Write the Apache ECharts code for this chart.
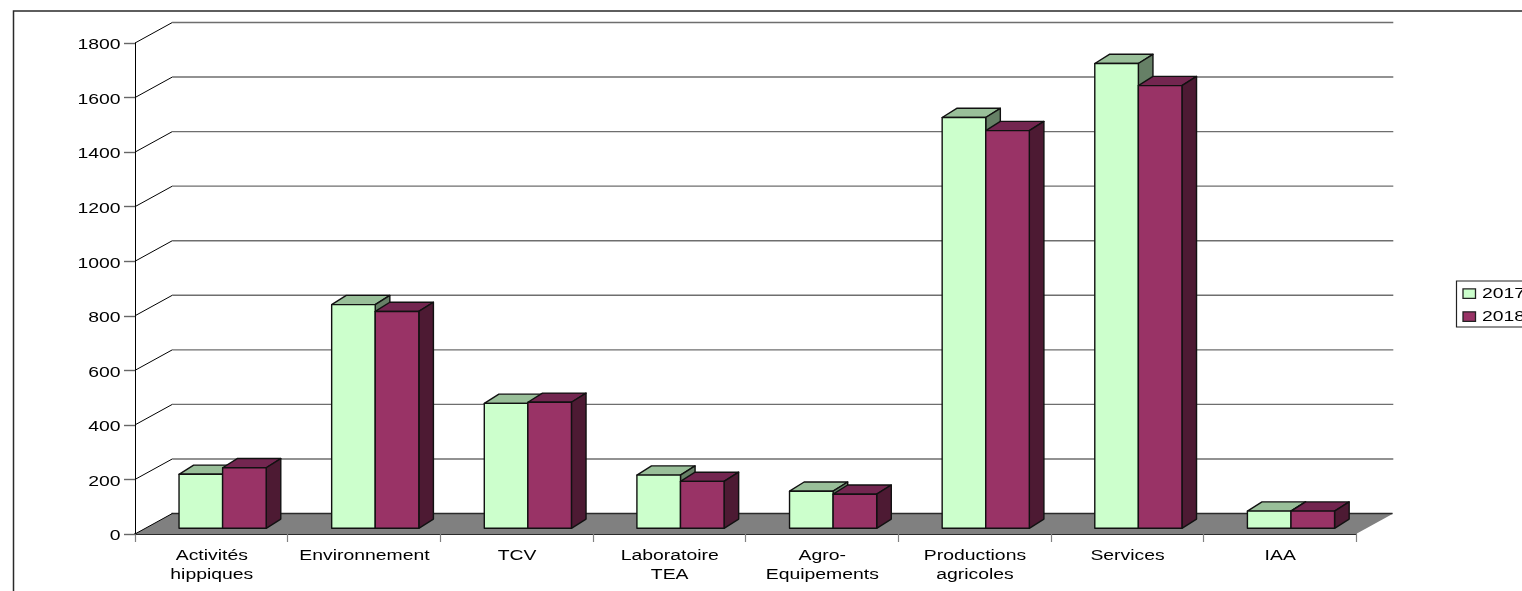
<!DOCTYPE html>
<html><head><meta charset="utf-8">
<style>html,body{margin:0;padding:0;background:#fff;overflow:hidden}#c{width:1522px;height:591px}</style>
<script src="https://cdn.jsdelivr.net/npm/echarts@6/dist/echarts.min.js"></script>
</head><body><div id="c"></div>
<script>
const categories = ['Activités\nhippiques','Environnement','TCV','Laboratoire\nTEA','Agro-\nEquipements','Productions\nagricoles','Services','IAA'];
const values2017 = [198,820,458,195,136,1506,1704,63];
const values2018 = [222,795,462,172,125,1458,1623,63];
const yTicks = [0,200,400,600,800,1000,1200,1400,1600,1800];
const seriesNames = ['2017','2018'];

const FONT = '15.5px "Liberation Sans", Arial, sans-serif';
const SX = 1.25;
const WALL = [37.3,-20.5], GAP = [11.3,-5.7], DEPTH = [14.6,-9.2];
const palette = [
  {front:'#CCFFCC', top:'#99BF99', side:'#668066'},
  {front:'#993366', top:'#732650', side:'#4D1A33'}
];
const chart = echarts.init(document.getElementById('c'));

function pts(a){return {points:a};}

function renderBack(params, api){
  const c = [];
  const left = api.coord([0,0])[0] - api.size([1,0])[0]/2;
  const right = api.coord([categories.length-1,0])[0] + api.size([1,0])[0]/2;
  const y0 = api.coord([0,0])[1];
  c.push({type:'polygon',shape:pts([[left,y0],[left+WALL[0],y0+WALL[1]],[right+WALL[0],y0+WALL[1]],[right,y0]]),
    style:{fill:'#808080',stroke:null}});
  c.push({type:'line',shape:{x1:left+WALL[0]*0.98,y1:y0+WALL[1],x2:right+WALL[0]*0.98,y2:y0+WALL[1]},style:{stroke:'#2a2a2a',lineWidth:1.5}});
  c.push({type:'line',shape:{x1:left,y1:y0,x2:left+WALL[0],y2:y0+WALL[1]},style:{stroke:'#000',lineWidth:1}});
  yTicks.forEach(function(t){
    const y = api.coord([0,t])[1];
    if(t>0){
      c.push({type:'line',shape:{x1:left+WALL[0],y1:y+WALL[1],x2:right+WALL[0],y2:y+WALL[1]},style:{stroke:'#6e6e6e',lineWidth:1.4}});
      c.push({type:'line',shape:{x1:left,y1:y,x2:left+WALL[0],y2:y+WALL[1]},style:{stroke:'#000',lineWidth:1}});
    }
    c.push({type:'text',x:left-14.5,y:y+2,scaleX:SX,style:{text:String(t),font:FONT,fill:'#000',textAlign:'right',textVerticalAlign:'middle'}});
  });
  categories.forEach(function(name,i){
    c.push({type:'text',x:api.coord([i,0])[0]+0.5,y:y0+12.5,scaleX:SX,style:{text:name,font:FONT,fill:'#000',textAlign:'center',textVerticalAlign:'top',lineHeight:19}});
  });
  return {type:'group',children:c};
}

function barRenderer(idx){
  return function(params, api){
    const cat = api.value(0), val = api.value(1);
    const cw = api.size([1,0])[0], w = cw*0.2855;
    const cx = api.coord([cat,0])[0], y0 = api.coord([cat,0])[1]+GAP[1], yt = api.coord([cat,val])[1]+GAP[1];
    const x1 = cx - w + idx*w + GAP[0], x2 = x1 + w;
    const p = palette[idx], st = function(f){return {fill:f,stroke:'#111',lineWidth:1.4,lineJoin:'round'};};
    return {type:'group',children:[
      {type:'polygon',shape:pts([[x1,yt],[x1+DEPTH[0],yt+DEPTH[1]],[x2+DEPTH[0],yt+DEPTH[1]],[x2,yt]]),style:st(p.top)},
      {type:'polygon',shape:pts([[x2,yt],[x2+DEPTH[0],yt+DEPTH[1]],[x2+DEPTH[0],y0+DEPTH[1]],[x2,y0]]),style:st(p.side)},
      {type:'polygon',shape:pts([[x1,yt],[x2,yt],[x2,y0],[x1,y0]]),style:st(p.front)}
    ]};
  };
}

function legendItem(i){
  const y = 293.5 + i*23;
  return [
    {type:'rect',shape:{x:1463,y:y-4.7,width:12.5,height:9.5},style:{fill:palette[i].front,stroke:'#222',lineWidth:1.3},silent:true,z:20},
    {type:'text',x:1482,y:y,scaleX:SX,style:{text:seriesNames[i],font:FONT,fill:'#000',textVerticalAlign:'middle'},silent:true,z:20}
  ];
}

chart.setOption({
  animation:false,
  backgroundColor:'#fff',
  tooltip:{show:false},
  graphic:[
    {type:'rect',shape:{x:13.5,y:11,width:2000,height:1000},style:{fill:null,stroke:'#2a2a2a',lineWidth:1.5},silent:true,z:-1},
    {type:'rect',shape:{x:1456.5,y:281,width:200,height:46},style:{fill:'#fff',stroke:'#222',lineWidth:1.2},silent:true,z:19}
  ].concat(legendItem(0),legendItem(1)),
  grid:{left:135,right:166,top:43,bottom:57,containLabel:false},
  xAxis:{type:'category',data:categories,boundaryGap:true,
    axisLine:{show:true,onZero:false,lineStyle:{color:'#2a2a2a',width:1.8}},
    axisTick:{show:true,alignWithLabel:false,length:8,lineStyle:{color:'#808080',width:1.2}},
    axisLabel:{show:false},splitLine:{show:false}},
  yAxis:{type:'value',min:0,max:1800,interval:200,
    axisLine:{show:true,lineStyle:{color:'#000',width:1}},
    axisTick:{show:true,length:11,lineStyle:{color:'#666',width:1.4}},
    axisLabel:{show:false},splitLine:{show:false}},
  series:[
    {type:'custom',name:'back',data:[[0,0]],renderItem:renderBack,clip:false,silent:true,z:1},
    {type:'custom',name:seriesNames[0],data:values2017.map(function(v,i){return [i,v];}),encode:{x:0,y:1},renderItem:barRenderer(0),clip:false,silent:true,z:5},
    {type:'custom',name:seriesNames[1],data:values2018.map(function(v,i){return [i,v];}),encode:{x:0,y:1},renderItem:barRenderer(1),clip:false,silent:true,z:6}
  ]
});
</script></body></html>
